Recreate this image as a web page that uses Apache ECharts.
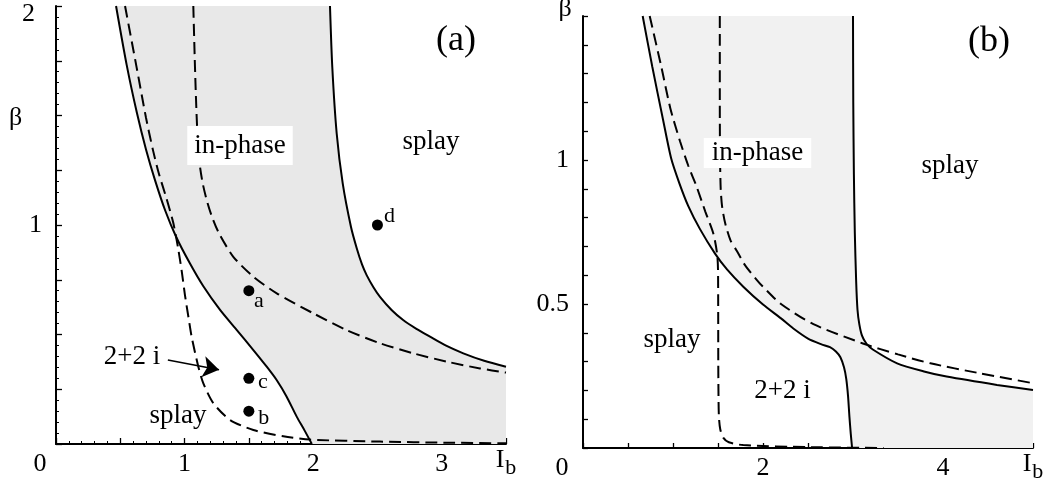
<!DOCTYPE html>
<html><head><meta charset="utf-8">
<script src="https://cdn.jsdelivr.net/npm/echarts@6/dist/echarts.min.js"></script>
<style>html,body{margin:0;padding:0;background:#fff}#c{width:1055px;height:486px}</style>
</head><body><div id="c"></div>
<script>
// ---------- Panel (a) data ----------
const solidA1 = [[0.467,2.0],[0.55,1.73],[0.63,1.51],[0.70,1.345],[0.77,1.205],[0.85,1.065],[0.935,0.945],[1.04,0.826],[1.146,0.72],[1.276,0.612],[1.405,0.521],[1.535,0.429],[1.639,0.353],[1.716,0.292],[1.794,0.216],[1.872,0.125],[1.935,0.06],[1.99,0.0]];
const solidA2 = [[2.131,2.0],[2.149,1.72],[2.183,1.419],[2.23,1.19],[2.294,0.992],[2.339,0.894],[2.38,0.82],[2.417,0.77],[2.47,0.715],[2.52,0.672],[2.61,0.612],[2.70,0.566],[2.80,0.527],[2.909,0.49],[3.03,0.45],[3.168,0.414],[3.33,0.38],[3.5,0.353]];
const dashedA1 = [[0.537,2.0],[0.627,1.72],[0.70,1.49],[0.757,1.335],[0.80,1.235],[0.86,1.12],[0.912,1.01],[0.951,0.89],[0.98,0.78],[1.003,0.68],[1.03,0.58],[1.055,0.49],[1.107,0.353],[1.146,0.277],[1.224,0.186],[1.353,0.11],[1.535,0.064],[1.768,0.035],[1.976,0.02],[2.52,0.011],[3.04,0.006],[3.5,0.003]];
const dashedA2 = [[1.068,2.0],[1.081,1.72],[1.094,1.495],[1.107,1.342],[1.12,1.266],[1.141,1.19],[1.172,1.114],[1.213,1.038],[1.268,0.962],[1.379,0.855],[1.535,0.764],[1.717,0.688],[2.0,0.597],[2.26,0.52],[2.52,0.46],[2.779,0.414],[3.04,0.376],[3.298,0.345],[3.5,0.326]];
const pointNames = ['a','b','c','d'];
const pointX = [1.5, 1.5, 1.5, 2.5];
const pointY = [0.7, 0.15, 0.3, 1.0];
const xLabelsA = [0, 1, 2, 3];
const yLabelsA = [1, 2];

// ---------- Panel (b) data ----------
const solidB1 = [[0.663,1.5],[0.77,1.324],[0.89,1.139],[0.98,1.005],[1.07,0.92],[1.17,0.84],[1.30,0.76],[1.467,0.675],[1.60,0.62],[1.781,0.56],[2.0,0.498],[2.2,0.45],[2.337,0.415],[2.5,0.38],[2.65,0.36],[2.744,0.35],[2.81,0.335],[2.86,0.315],[2.9,0.28],[2.925,0.24],[2.945,0.18],[2.96,0.11],[2.975,0.05],[2.99,0.0]];
const solidB2 = [[3.0,1.5],[3.003,1.2],[3.01,0.95],[3.02,0.75],[3.035,0.58],[3.05,0.48],[3.07,0.43],[3.1,0.39],[3.15,0.362],[3.22,0.342],[3.49,0.294],[3.8,0.265],[4.04,0.248],[4.6,0.219],[5.0,0.201]];
const dashedB1 = [[0.741,1.5],[0.87,1.324],[0.97,1.18],[1.078,1.065],[1.17,0.98],[1.263,0.907],[1.36,0.82],[1.448,0.745],[1.49,0.675],[1.50,0.62],[1.502,0.5],[1.503,0.3],[1.505,0.2],[1.51,0.11],[1.525,0.065],[1.56,0.035],[1.62,0.02],[1.78,0.01],[2.5,0.003],[3.34,0.0]];
const dashedB2 = [[1.52,1.5],[1.52,1.2],[1.523,1.0],[1.53,0.9],[1.545,0.84],[1.58,0.78],[1.64,0.72],[1.708,0.685],[1.8,0.635],[1.93,0.584],[2.0,0.56],[2.2,0.50],[2.56,0.43],[3.11,0.363],[3.5,0.325],[3.86,0.294],[4.4,0.26],[5.0,0.225]];
const xLabelsB = [0, 2, 4];
const yLabelsB = [0.5, 1];

// arrow annotation in panel (a): from the "2+2 i" text towards the region
const arrowStart = [0.87, 0.384];
const arrowEnd = [1.268, 0.339];

const FF = '"Liberation Serif","Times New Roman",serif';
const BLACK = '#000';

function has(arr, v){ return arr.some(a => Math.abs(a - v) < 1e-9); }

function xAxisCfg(grid, max, labels, minor, tickLen, zeroPad){
  return {
    gridIndex: grid, type: 'value', min: 0, max: max, interval: 0.5,
    axisLine: {show: true, onZero: false, lineStyle: {color: BLACK, width: 2}},
    axisTick: {show: true, inside: true, length: tickLen, lineStyle: {color: BLACK, width: 1.3}},
    minorTick: {show: minor, splitNumber: 5, length: 3, lineStyle: {color: BLACK, width: 1}},
    splitLine: {show: false}, minorSplitLine: {show: false},
    axisLabel: {
      show: true, margin: 7, color: BLACK, fontFamily: FF, fontSize: 26,
      showMinLabel: true, showMaxLabel: true, hideOverlap: false,
      formatter: function(v){
        if (Math.abs(v - max) < 1e-9) return '{i|I}{s|b}';
        if (Math.abs(v) < 1e-9 && has(labels, 0)) return '{z|0}';
        return has(labels, v) ? String(v) : '';
      },
      rich: {
        z: {fontSize: 26, fontFamily: FF, color: BLACK, padding: [0, zeroPad, 0, 0]},
        i: {fontSize: 26, fontFamily: FF, color: BLACK, lineHeight: 26, padding: [0, 0, 8, 0]},
        s: {fontSize: 22, fontFamily: FF, color: BLACK, lineHeight: 26, padding: [8, 0, 0, 1]}
      }
    }
  };
}
function yAxisCfg(grid, max, interval, labels, minor, tickLen){
  return {
    gridIndex: grid, type: 'value', min: 0, max: max, interval: interval,
    axisLine: {show: true, onZero: false, lineStyle: {color: BLACK, width: 2}},
    axisTick: {show: true, inside: true, length: tickLen, lineStyle: {color: BLACK, width: 1.3}},
    minorTick: {show: minor, splitNumber: 5, length: 3, lineStyle: {color: BLACK, width: 1}},
    splitLine: {show: false}, minorSplitLine: {show: false},
    axisLabel: {
      show: true, margin: 14, color: BLACK, fontFamily: FF, fontSize: 26,
      showMinLabel: true, showMaxLabel: true, hideOverlap: false,
      formatter: function(v){
        if (!has(labels, v)) return '';
        if (Math.abs(v - max) < 1e-9) return '{t|' + v + '}';
        return String(v);
      },
      rich: { t: {fontSize: 26, fontFamily: FF, color: BLACK, padding: [16, 7, 0, 0]} }
    }
  };
}
function shade(xi, yi, upper, lower, xmax, color){
  const pts = [...upper, [xmax, 0], ...lower.slice().reverse()];
  return {
    type: 'custom', xAxisIndex: xi, yAxisIndex: yi, silent: true, z: 1,
    data: pts,
    renderItem: function(params, api){
      if (params.dataIndex !== 0) return null;
      return {type: 'polygon', shape: {points: pts.map(p => api.coord(p))}, style: {fill: color}};
    }
  };
}
function curve(xi, yi, pts, dashed){
  return {
    type: 'line', xAxisIndex: xi, yAxisIndex: yi, data: pts, showSymbol: false, silent: true,
    smooth: 0.25, z: 3,
    lineStyle: {color: BLACK, width: 2, type: dashed ? [12, 6] : 'solid'}
  };
}
function txt(text, x, y, size, extra){
  return {
    type: 'text', z: 100, silent: true,
    style: Object.assign({text: text, x: x, y: y, fontSize: size, fontFamily: FF, fill: BLACK,
      align: 'center', verticalAlign: 'middle'}, extra || {})
  };
}

const labelOffsets = {a: [10, 11], b: [15, 7], c: [14, 4], d: [12, -9]};

const chart = echarts.init(document.getElementById('c'), null, {renderer: 'canvas'});
chart.setOption({
  animation: false,
  backgroundColor: '#fff',
  grid: [
    {left: 56, top: 6, width: 450, height: 438, outerBoundsMode: 'none', containLabel: false},
    {left: 583, top: 16, width: 450, height: 432, outerBoundsMode: 'none', containLabel: false}
  ],
  xAxis: [xAxisCfg(0, 3.5, xLabelsA, true, 6, 32), xAxisCfg(1, 5, xLabelsB, false, 5, 42)],
  yAxis: [yAxisCfg(0, 2, 0.25, yLabelsA, true, 6), yAxisCfg(1, 1.5, 0.1, yLabelsB, false, 5)],
  series: [
    shade(0, 0, solidA1, solidA2, 3.5, '#e8e8e8'),
    curve(0, 0, solidA1, false),
    curve(0, 0, solidA2, false),
    curve(0, 0, dashedA1, true),
    curve(0, 0, dashedA2, true),
    {
      type: 'scatter', xAxisIndex: 0, yAxisIndex: 0, z: 5, silent: true,
      symbol: 'circle', symbolSize: 11, itemStyle: {color: BLACK, opacity: 1},
      data: pointNames.map((n, i) => ({name: n, value: [pointX[i], pointY[i]],
        label: {offset: labelOffsets[n]}})),
      label: {show: true, position: 'inside', formatter: '{b}', color: BLACK, opacity: 1,
        fontFamily: FF, fontSize: 22},
      markLine: {
        silent: true, symbol: ['none', 'arrow'], symbolSize: 16, precision: 4,
        label: {show: false}, emphasis: {disabled: true},
        lineStyle: {color: BLACK, width: 1.5, type: 'solid', opacity: 1},
        data: [[{coord: arrowStart}, {coord: arrowEnd}]]
      }
    },
    shade(1, 1, solidB1, solidB2, 5, '#f1f1f1'),
    curve(1, 1, solidB1, false),
    curve(1, 1, solidB2, false),
    curve(1, 1, dashedB1, true),
    curve(1, 1, dashedB2, true)
  ],
  graphic: [
    txt('β', 15.5, 118, 26),
    txt('(a)', 456, 41, 36),
    txt('splay', 431, 142, 27),
    txt('in-phase', 240, 145.5, 27, {backgroundColor: '#fff', padding: [6, 7, 6, 7]}),
    txt('2+2 i', 132, 357, 27),
    txt('splay', 178, 416, 27),
    txt('β', 565, 9, 26),
    txt('(b)', 989, 42, 36),
    txt('in-phase', 757.5, 153, 27, {backgroundColor: '#fff', padding: [0, 8, 3, 8]}),
    txt('splay', 950, 166, 27),
    txt('splay', 672, 340, 27),
    txt('2+2 i', 782.5, 390.7, 27)
  ]
});
</script>
</body></html>
